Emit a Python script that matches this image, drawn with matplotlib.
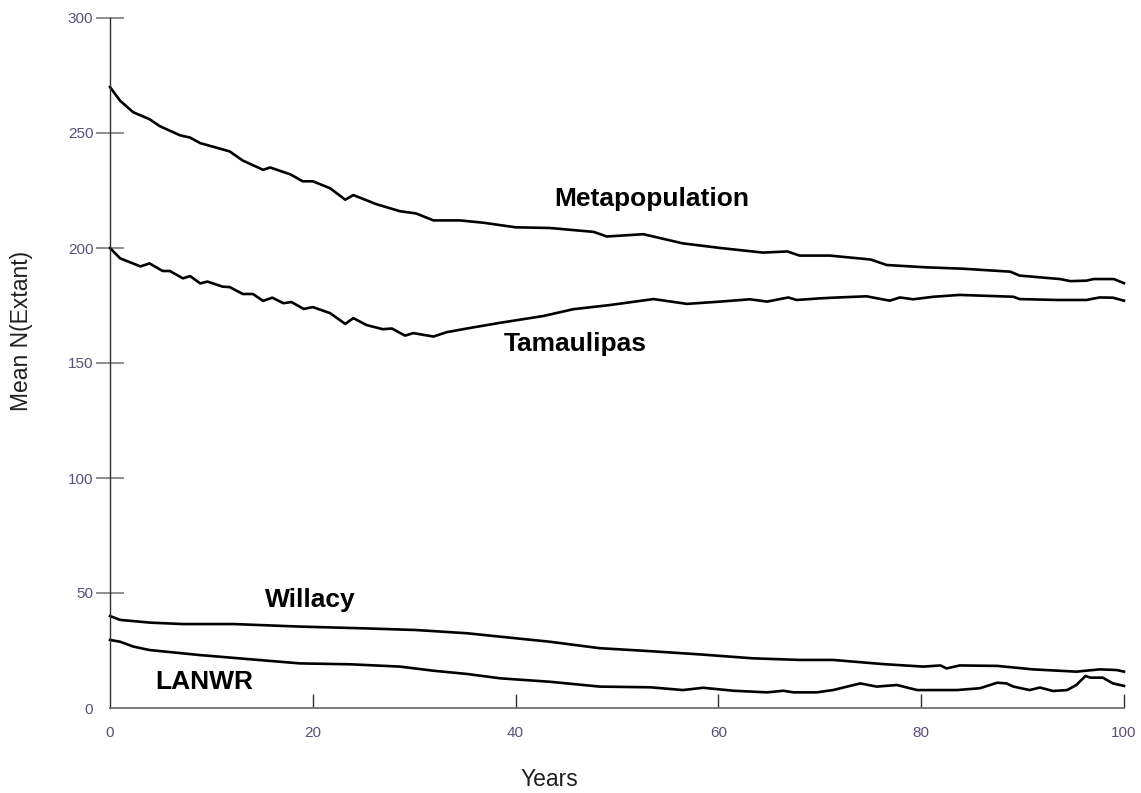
import matplotlib
matplotlib.use("Agg")
import matplotlib.pyplot as plt

plt.rcParams['font.family'] = ['Liberation Sans', 'DejaVu Sans']

# ---- data ----
meta_years = [0, 1, 2.3, 3.9, 4.9, 6.9, 7.9, 8.9, 11.8, 13.1, 15.1, 15.8, 17.8, 19, 20,
              21.7, 23.2, 24, 26.3, 28.6, 30.2, 31.9, 34.5, 36.8, 40, 43.4, 47.7, 49,
              52.6, 56.5, 60.2, 64.4, 66.8, 68, 71, 75, 76.6, 80.5, 84.1, 88.8, 89.7,
              93.7, 94.7, 96.3, 97, 99, 100]
meta_vals = [270, 264, 259, 256, 253, 249, 248, 245.6, 242, 238, 234, 235, 232, 229, 229,
             226, 221, 223, 219, 216, 215, 212, 212, 211, 209, 208.7, 207, 205,
             206, 202, 200, 198, 198.5, 196.7, 196.7, 195, 192.6, 191.6, 191, 189.7, 188,
             186.5, 185.6, 185.8, 186.5, 186.5, 184.7]

tam_years = [0, 1, 3, 3.9, 5.2, 5.9, 7.2, 7.9, 8.9, 9.6, 11.1, 11.8, 13.1, 14.1, 15.1, 16,
             17.1, 17.9, 19.1, 20, 21.7, 23.2, 24, 25.3, 26.9, 27.8, 29.1, 29.9, 31.9,
             33.2, 35.2, 38.5, 42.7, 45.7, 49.3, 53.6, 56.9, 60.2, 63.1, 64.8, 66.9,
             67.7, 70, 71.3, 74.6, 76.9, 77.9, 79.2, 81.2, 83.8, 89.1, 89.7, 93.4, 96.3,
             97.6, 98.9, 100]
tam_vals = [200, 195.5, 192, 193.3, 190, 190, 186.8, 187.8, 184.6, 185.4, 183.2, 183, 180,
            180, 177, 178.4, 176, 176.5, 173.5, 174.3, 171.7, 167, 169.5, 166.5, 164.7,
            165, 161.9, 163, 161.5, 163.4, 165, 167.5, 170.4, 173.4, 175.2, 177.8, 175.7,
            176.7, 177.7, 176.7, 178.5, 177.4, 178.1, 178.4, 179, 177.1, 178.5, 177.7,
            178.8, 179.6, 178.8, 177.8, 177.4, 177.4, 178.5, 178.4, 177.1]

wil_years = [0, 1, 4, 7.2, 12.2, 18.7, 25.3, 30.2, 35.2, 38.5, 43.4, 48.3, 52.6, 58.2,
             63.4, 68, 71.3, 76.2, 80.2, 81.9, 82.5, 83.8, 87.5, 91, 95.3, 97.6, 99.3, 100]
wil_vals = [40, 38.3, 37.1, 36.5, 36.5, 35.4, 34.6, 33.9, 32.5, 31, 28.8, 26, 24.9, 23.3,
            21.6, 20.9, 20.9, 19.1, 18, 18.5, 17.2, 18.5, 18.3, 16.8, 15.8, 16.8, 16.5, 15.8]

lan_years = [0, 1, 2.3, 3.9, 8.9, 13.8, 18.7, 23.7, 28.6, 31.9, 35.2, 38.5, 43.4, 48.3,
             53.3, 56.5, 58.5, 61.5, 64.8, 66.4, 67.4, 69.7, 71.3, 74, 75.6, 77.6, 79.6,
             83.5, 85.8, 87.5, 88.4, 89.1, 90.7, 91.7, 93, 94.4, 95.3, 96.2, 96.7, 97.9,
             98.9, 100]
lan_vals = [29.6, 28.8, 26.7, 25.2, 23, 21.2, 19.4, 19, 18, 16.2, 14.8, 12.9, 11.4, 9.3,
            9, 7.8, 8.8, 7.5, 6.8, 7.5, 6.8, 6.8, 7.8, 10.7, 9.3, 10, 7.8,
            7.8, 8.6, 11, 10.7, 9.3, 7.8, 8.9, 7.4, 7.8, 10, 13.9, 13.2, 13.2,
            10.7, 9.6]

series_labels = ["Metapopulation", "Tamaulipas", "Willacy", "LANWR"]
label_pos = [(53.4, 218.3), (45.9, 155.4), (19.8, 43.8), (9.3, 8.1)]

x_ticks = [0, 20, 40, 60, 80, 100]
y_ticks = [0, 50, 100, 150, 200, 250, 300]
x_label = "Years"
y_label = "Mean N(Extant)"

# ---- figure ----
W, H = 1141, 793
fig = plt.figure(figsize=(W / 100, H / 100), dpi=100)
ax = fig.add_axes([110 / W, (H - 708) / H, 1014 / W, 690 / H])

for xs, ys in [(meta_years, meta_vals), (tam_years, tam_vals),
               (wil_years, wil_vals), (lan_years, lan_vals)]:
    ax.plot(xs, ys, color='black', lw=1.9, solid_joinstyle='round', clip_on=False)

for txt, (tx, ty) in zip(series_labels, label_pos):
    ax.text(tx, ty, txt, ha='center', va='baseline', fontsize=19,
            fontweight='bold', color='black')

ax.set_xlim(0, 100)
ax.set_ylim(0, 300)
ax.set_xticks(x_ticks)
ax.set_yticks(y_ticks)
ax.set_xticklabels([str(v) for v in x_ticks])
ax.set_yticklabels([str(v) for v in y_ticks])

tick_col = '#5b4f7a'
ax.tick_params(axis='y', direction='inout', length=20, width=1.1, color='#707070',
               pad=2, labelsize=11, labelcolor=tick_col)
ax.tick_params(axis='x', direction='in', length=10, width=1.0, color='#303030',
               pad=13, labelsize=11, labelcolor=tick_col)
# hide tick marks that coincide with the axes corner
ax.yaxis.get_major_ticks()[0].tick1line.set_visible(False)
ax.xaxis.get_major_ticks()[0].tick1line.set_visible(False)

for s in ['top', 'right']:
    ax.spines[s].set_visible(False)
ax.spines['left'].set_color('#303030')
ax.spines['left'].set_linewidth(1.0)
ax.spines['bottom'].set_color('#707070')
ax.spines['bottom'].set_linewidth(1.3)

ax.set_xlabel(x_label, fontsize=16.5, color='#202020')
ax.set_ylabel(y_label, fontsize=16.5, color='#202020')
ax.xaxis.set_label_coords((549 - 110) / 1014, (708 - 768) / 690)
ax.xaxis.label.set_va('top')
# ylabel anchor is the right-hand side of the rotated text
ax.yaxis.set_label_coords((33 - 110) / 1014, (708 - 331) / 690)

fig.savefig("out.png", dpi=100)
